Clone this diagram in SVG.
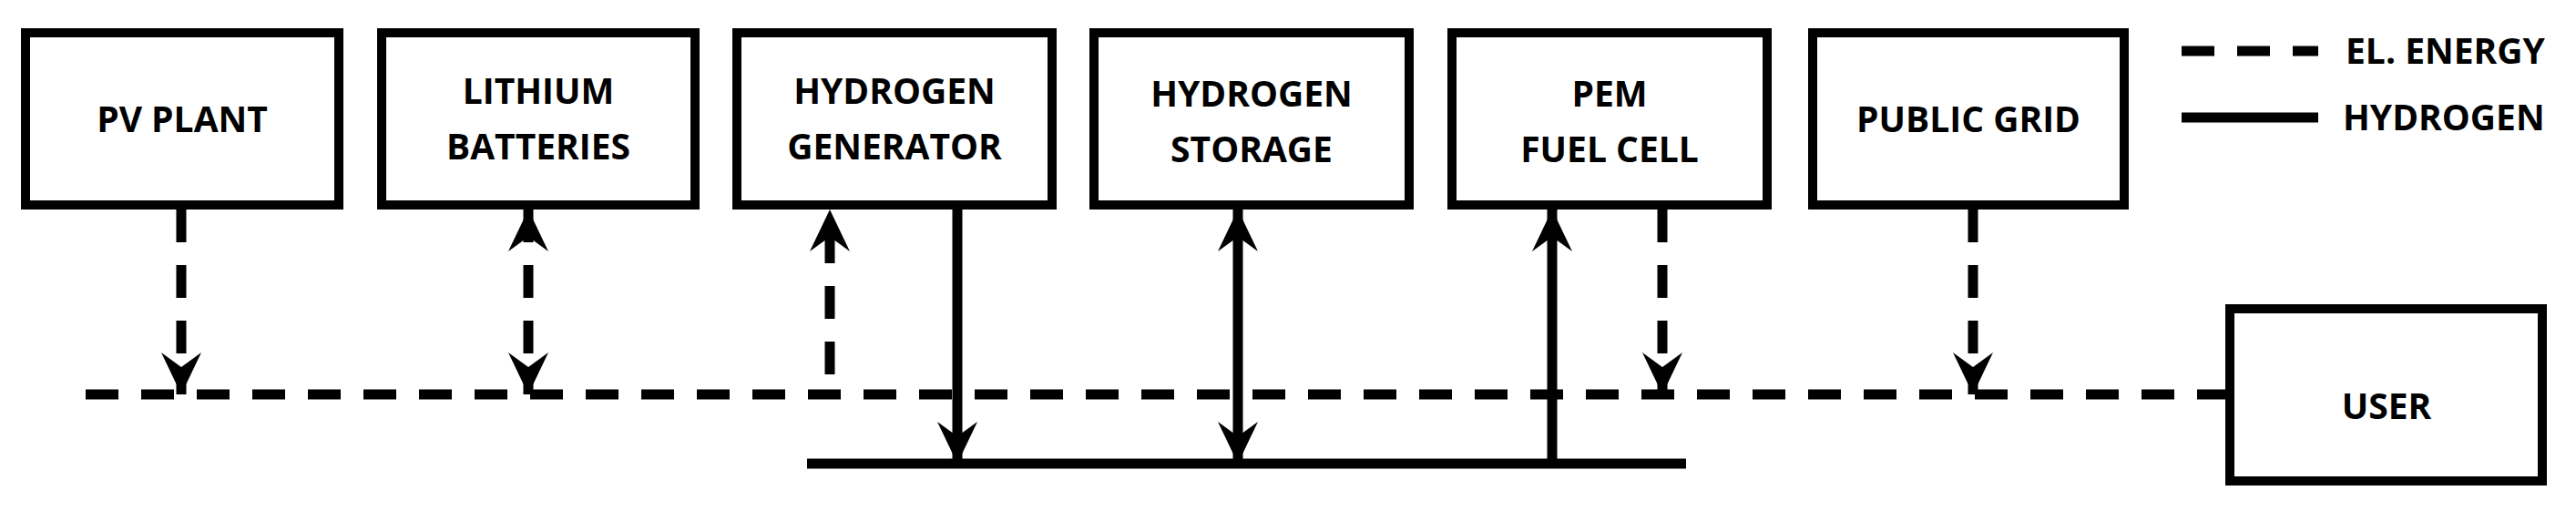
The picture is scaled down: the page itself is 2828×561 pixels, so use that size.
<svg xmlns="http://www.w3.org/2000/svg" width="2828" height="561" viewBox="0 0 2828 561">
<style>
.box{fill:#fff;stroke:#000;stroke-width:10}
.t{font-family:"Open Sans","Liberation Sans",sans-serif;font-weight:bold;font-size:39px;text-anchor:middle;fill:#000}
.lg{font-family:"Open Sans","Liberation Sans",sans-serif;font-weight:bold;font-size:39px;fill:#000}
.d{stroke:#000;stroke-width:11;fill:none;stroke-dasharray:36 25}
.s{stroke:#000;stroke-width:11;fill:none}
</style>
<defs>
<marker id="a" markerUnits="userSpaceOnUse" viewBox="-50 -25 55 50" markerWidth="55" markerHeight="50" refX="0" refY="0" orient="auto-start-reverse">
<path d="M0,0 L-46,-22 L-30,0 L-46,22 Z" fill="#000"/>
</marker>
</defs>
<g id="pv"><rect class="box" x="28" y="36" width="344" height="189"/><text class="t" x="200" y="145">PV PLANT</text></g>
<g id="li"><rect class="box" x="419" y="36" width="344" height="189"/><text class="t" x="591" y="114">LITHIUM</text><text class="t" x="591" y="175">BATTERIES</text></g>
<g id="hg"><rect class="box" x="809" y="36" width="346" height="189"/><text class="t" x="982" y="114">HYDROGEN</text><text class="t" x="982" y="175">GENERATOR</text></g>
<g id="hs"><rect class="box" x="1201" y="36" width="346" height="189"/><text class="t" x="1374" y="117">HYDROGEN</text><text class="t" x="1374" y="178">STORAGE</text></g>
<g id="pem"><rect class="box" x="1594" y="36" width="346" height="189"/><text class="t" x="1767" y="117">PEM</text><text class="t" x="1767" y="178">FUEL CELL</text></g>
<g id="grid"><rect class="box" x="1990" y="36" width="342" height="189"/><text class="t" x="2161" y="145">PUBLIC GRID</text></g>
<g id="user"><rect class="box" x="2448" y="339" width="343" height="189"/><text class="t" x="2620" y="460">USER</text></g>
<g id="legend">
<line class="d" x1="2395" y1="56" x2="2545" y2="56" stroke-dasharray="36 26"/>
<line class="s" x1="2395" y1="129" x2="2545" y2="129"/>
<text class="lg" x="2575" y="70">EL. ENERGY</text>
<text class="lg" x="2572" y="143">HYDROGEN</text>
</g>
<g id="connectors">
<line class="d" x1="94" y1="433" x2="2443" y2="433" stroke-dasharray="37 25"/>
<line class="s" x1="886" y1="509" x2="1851" y2="509"/>
<line class="d" x1="199" y1="230" x2="199" y2="433" marker-end="url(#a)"/>
<line class="d" x1="580" y1="230" x2="580" y2="433" marker-start="url(#a)" marker-end="url(#a)"/>
<line class="d" x1="911" y1="411" x2="911" y2="230" marker-end="url(#a)"/>
<line class="s" x1="1051" y1="230" x2="1051" y2="509" marker-end="url(#a)"/>
<line class="s" x1="1359" y1="230" x2="1359" y2="509" marker-start="url(#a)" marker-end="url(#a)"/>
<line class="s" x1="1704" y1="509" x2="1704" y2="230" marker-end="url(#a)"/>
<line class="d" x1="1825" y1="230" x2="1825" y2="433" marker-end="url(#a)"/>
<line class="d" x1="2166" y1="230" x2="2166" y2="433" marker-end="url(#a)"/>
</g>
</svg>
